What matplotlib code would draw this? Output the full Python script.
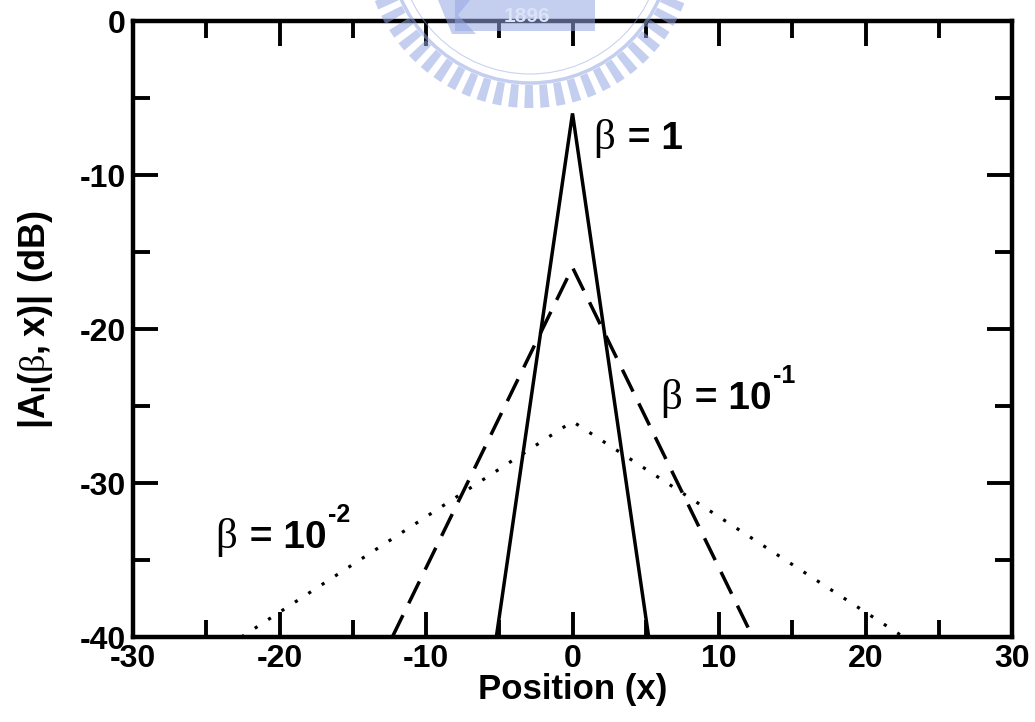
import numpy as np
import matplotlib
matplotlib.use('Agg')
import matplotlib.pyplot as plt
from matplotlib.patches import Rectangle, Circle, Polygon
from matplotlib.transforms import offset_copy

plt.rcParams['font.family'] = 'Liberation Sans'
plt.rcParams['axes.unicode_minus'] = False
plt.rcParams['mathtext.fontset'] = 'custom'
plt.rcParams['mathtext.rm'] = 'Liberation Serif:weight=normal'
plt.rcParams['mathtext.bf'] = 'Liberation Sans:weight=bold'

# Kurven (Position x, Betrag in dB)
x_beta1 = [-5.2, 0, 5.2]
y_beta1 = [-40, -6, -40]
x_beta01 = [-12.3, 0, 12.3]
y_beta01 = [-40, -16, -40]
x_beta001 = [-22.6, 0, 22.6]
y_beta001 = [-40, -26, -40]

# Beschriftungen: Text, Exponent, Position (linke Kante, Grundlinie)
label_main = [' = 1', ' = 10', ' = 10']
label_exp = ['', '-1', '-2']
label_x = [1.4, 6.0, -24.4]
label_y = [-8.3, -25.2, -34.2]

W, H = 1035, 722
fig = plt.figure(figsize=(W / 100, H / 100), dpi=100)

# Wasserzeichen (Siegel oben, schwach blau), Koordinaten in Bildpixeln
wm = (0.58, 0.65, 0.89)
cx, cy = 530, -58
def px(x, y):
    return (x, H - y)
for a in np.arange(180, 361, 5.6):
    t = np.deg2rad(a)
    r0, r1, hw = 143, 166, 3.8
    ux, uy = np.cos(t), -np.sin(t)
    vx, vy = -uy, ux
    pts = [px(cx + ux * r0 + vx * hw, cy + uy * r0 + vy * hw),
           px(cx + ux * r1 + vx * hw * 1.2, cy + uy * r1 + vy * hw * 1.2),
           px(cx + ux * r1 - vx * hw * 1.2, cy + uy * r1 - vy * hw * 1.2),
           px(cx + ux * r0 - vx * hw, cy + uy * r0 - vy * hw)]
    fig.patches.append(Polygon(pts, closed=True, transform=None, color=wm,
                               alpha=0.55, lw=0, zorder=0))
fig.patches.append(Circle(px(cx, cy), 141, transform=None, fill=False,
                          ec=wm, lw=2.5, alpha=0.55, zorder=0))
fig.patches.append(Circle(px(cx, cy), 132, transform=None, fill=False,
                          ec=wm, lw=0.8, alpha=0.5, zorder=0))
fig.patches.append(Rectangle(px(455, 31), 140, 31, transform=None, color=wm,
                             alpha=0.55, lw=0, zorder=0))
fig.patches.append(Polygon([px(438, 0), px(470, 0), px(458, 15), px(476, 34),
                            px(452, 34)], closed=True, transform=None,
                           color=wm, alpha=0.55, lw=0, zorder=0))
fig.text(527 / W, 1 - 16 / H, '1896', ha='center', va='center', fontsize=15,
         fontweight='bold', color=(0.86, 0.89, 0.97), zorder=0)

ax = fig.add_axes([0.1285, 0.1177, 0.8493, 0.8532])
ax.set_facecolor('none')

ax.plot(x_beta1, y_beta1, color='black', lw=2.5, solid_joinstyle='miter')
ax.plot(x_beta01, y_beta01, color='black', lw=2.5, ls=(0, (7, 3.8)),
        dash_joinstyle='miter')
ax.plot(x_beta001, y_beta001, color='black', lw=2.3, ls=(0, (1, 4.0)))

renderer = fig.canvas.get_renderer()
for txt, ex, tx, ty in zip(label_main, label_exp, label_x, label_y):
    t1 = ax.text(tx, ty, 'β', family='Liberation Serif', fontsize=31,
                 va='baseline', ha='left')
    w1 = t1.get_window_extent(renderer).width
    t2 = ax.text(tx, ty, txt, fontsize=28, fontweight='bold', va='baseline',
                 ha='left', transform=offset_copy(ax.transData, fig, x=w1 + 2,
                                                  y=0, units='dots'))
    w2 = t2.get_window_extent(renderer).width
    if ex:
        ax.text(tx, ty, ex, fontsize=18, fontweight='bold', va='baseline',
                ha='left', transform=offset_copy(ax.transData, fig,
                                                 x=w1 + w2 + 3, y=26,
                                                 units='dots'))

ax.set_xlim(-30, 30)
ax.set_ylim(-40, 0)
ax.set_xticks(np.arange(-30, 31, 10))
ax.set_xticks(np.arange(-25, 30, 10), minor=True)
ax.set_yticks(np.arange(-40, 1, 10))
ax.set_yticks(np.arange(-35, 0, 10), minor=True)

ax.tick_params(which='both', direction='in', top=True, right=True, width=2.8,
               labelsize=23)
ax.tick_params(which='major', length=18, pad=5)
ax.tick_params(which='minor', length=12)
for lab in ax.get_xticklabels() + ax.get_yticklabels():
    lab.set_fontweight('bold')
for s in ax.spines.values():
    s.set_linewidth(3.2)
    s.set_zorder(3)

ax.set_xlabel('Position (x)', fontsize=25, fontweight='bold', labelpad=-1)
ax.set_ylabel(r'$\mathbf{|A_{l}(}\mathrm{\beta}\mathbf{,x)|\ (dB)}$', fontsize=26)
ax.yaxis.set_label_coords(-0.089, 0.515)

fig.savefig('out.png', dpi=100)
